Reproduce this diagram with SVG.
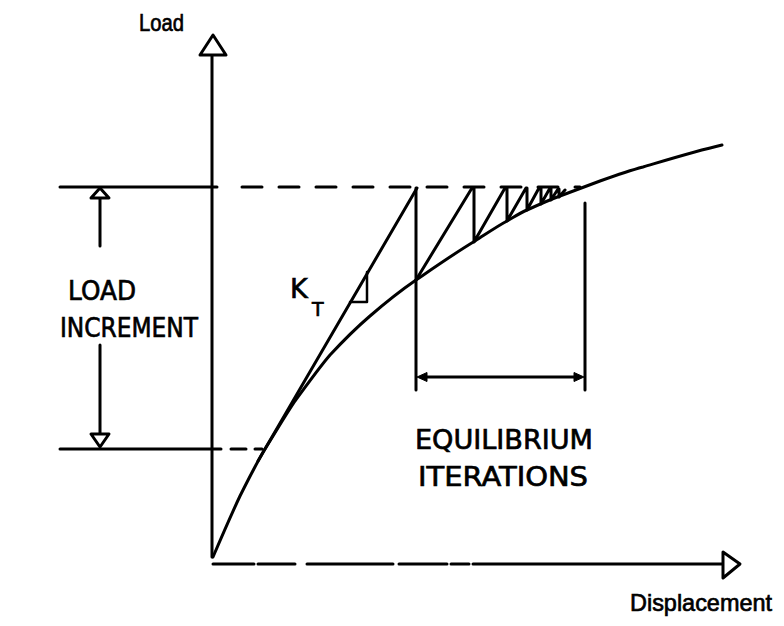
<svg xmlns="http://www.w3.org/2000/svg" width="784" height="626" viewBox="0 0 784 626">
<style>
.ln{stroke:#000;stroke-width:3;fill:none;stroke-linecap:round;stroke-linejoin:round}
.th{stroke:#000;stroke-width:2.5;fill:none;stroke-linecap:round;stroke-linejoin:round}
.open{stroke:#000;stroke-width:3;fill:#fff;stroke-linejoin:round}
.fill{fill:#000;stroke:#000;stroke-width:1}
.t{font-family:"DejaVu Sans","Liberation Sans",sans-serif;fill:#000;stroke:#000;stroke-width:0.7}
.cap{font-size:27px}
.low{font-family:"Liberation Sans","DejaVu Sans",sans-serif;font-size:24.5px}
</style>
<rect width="784" height="626" fill="#fff"/>
<g id="axes">
  <line class="ln" x1="212" y1="557" x2="212" y2="56"/>
  <polygon class="open" points="213,35 226,55 200,55"/>
  <g id="x-axis">
    <line class="ln" x1="213" y1="564" x2="254" y2="564"/>
    <line class="ln" x1="258" y1="564" x2="295" y2="564"/>
    <line class="ln" x1="307" y1="564" x2="393" y2="564"/>
    <line class="ln" x1="399" y1="564" x2="447" y2="564"/>
    <line class="ln" x1="451" y1="564" x2="469" y2="564"/>
    <line class="ln" x1="473" y1="564" x2="722" y2="564"/>
  </g>
  <polygon class="open" points="740,564 723,578 723,552"/>
  <text class="t low" x="139" y="31" textLength="45" lengthAdjust="spacingAndGlyphs">Load</text>
  <text class="t low" x="630" y="611" textLength="142" lengthAdjust="spacingAndGlyphs">Displacement</text>
</g>
<g id="load-levels">
  <line class="ln" x1="60" y1="187" x2="217" y2="187"/>
  <line class="ln" x1="242" y1="187" x2="580" y2="187" stroke-dasharray="20 17" stroke-linecap="butt"/>
  <line class="ln" x1="60" y1="449" x2="221" y2="449"/>
  <line class="ln" x1="231" y1="449" x2="246" y2="449"/>
  <line class="ln" x1="255" y1="449" x2="262" y2="449"/>
</g>
<g id="load-increment">
  <line class="ln" x1="100" y1="198" x2="100" y2="246"/>
  <line class="ln" x1="100" y1="345" x2="100" y2="433"/>
  <polygon class="open" points="100,188 109,198 91,198"/>
  <polygon class="open" points="100,447 109,434 91,434"/>
  <text class="t cap" x="68" y="300" textLength="68" lengthAdjust="spacingAndGlyphs">LOAD</text>
  <text class="t cap" x="60" y="337" textLength="138" lengthAdjust="spacingAndGlyphs">INCREMENT</text>
</g>
<g id="curve">
  <path class="ln" d="M213,557 C222,536 232,513 240,496 C248,480 256,464 265,449 C275,433 285,416 295,401 C307,385 318,369 330,355 C343,341 356,328 370,316 C385,303 400,291 416,280 C435,267 455,253 475,241 C486,234 496,227 507,221 C514,217 520,213 527,210 C538,205 549,200 560,196 C573,191 587,186 600,181 C614,176 628,171 643,167 C670,159 696,151 722,145"/>
</g>
<g id="tangent">
  <line class="ln" x1="258" y1="461" x2="417" y2="188"/>
  <polyline class="th" points="367,272 367,302 350,302"/>
  <text class="t cap" x="290" y="298">K</text>
  <text class="t" font-size="19" x="312" y="316">T</text>
</g>
<g id="iterations">
  <polyline class="ln" points="416,280 472,188 474,188 474,242 505,188 507,188 507,221 526,188 527,188 527,210 539,188 541,188 541,204 550,188 551,188 551,200 558,189 559,189 559,197 565,190"/>
  <line class="ln" x1="416" y1="188" x2="416" y2="390"/>
  <line class="ln" x1="585" y1="203" x2="585" y2="390"/>
  <line class="ln" x1="424" y1="377" x2="577" y2="377"/>
  <polygon class="fill" points="417,377 427,372.5 427,381.5"/>
  <polygon class="fill" points="584,377 574,372.5 574,381.5"/>
  <text class="t cap" x="415" y="449" textLength="178" lengthAdjust="spacingAndGlyphs">EQUILIBRIUM</text>
  <text class="t cap" x="418" y="486" textLength="170" lengthAdjust="spacingAndGlyphs">ITERATIONS</text>
</g>
</svg>
